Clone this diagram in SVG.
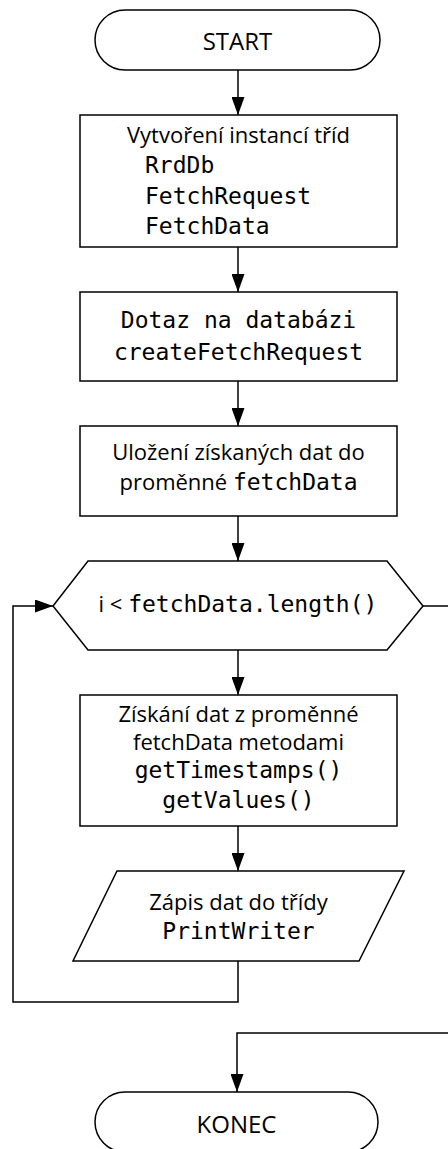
<svg xmlns="http://www.w3.org/2000/svg" width="448" height="1149" viewBox="0 0 448 1149">
  <style>
    .shape { fill: #ffffff; stroke: #000000; stroke-width: 1.5; }
    .link { fill: none; stroke: #000000; stroke-width: 1.5; }
    .sans { font-family: "Open Sans", "Noto Sans", sans-serif; font-size: 22px; fill: #000000; }
    .term { font-family: "Open Sans", "Noto Sans", sans-serif; font-size: 24px; fill: #000000; }
    .mono { font-family: "DejaVu Sans Mono", "Liberation Mono", monospace; font-size: 23px; fill: #000000; }
    .c { text-anchor: middle; }
  </style>
  <defs>
    <marker id="arrow" viewBox="0 0 18 13" refX="18" refY="6.5" markerWidth="18" markerHeight="13" markerUnits="userSpaceOnUse" orient="auto">
      <path d="M0,0 L18,6.5 L0,13 Z" fill="#000000"/>
    </marker>
  </defs>

  <!-- connectors -->
  <g id="connectors">
    <path class="link" d="M238,70 V115" marker-end="url(#arrow)"/>
    <path class="link" d="M238,247 V292" marker-end="url(#arrow)"/>
    <path class="link" d="M238,381 V426" marker-end="url(#arrow)"/>
    <path class="link" d="M238,516 V561" marker-end="url(#arrow)"/>
    <path class="link" d="M238,650 V695" marker-end="url(#arrow)"/>
    <path class="link" d="M238,826 V871" marker-end="url(#arrow)"/>
    <!-- loop back to the condition -->
    <path class="link" d="M238,961 V1002 H13 V606 H53" marker-end="url(#arrow)"/>
    <!-- exit of the loop -->
    <path class="link" d="M423,606 H452 V1033 H237 V1092" marker-end="url(#arrow)"/>
  </g>

  <g id="start">
    <rect class="shape" x="95" y="10" width="285" height="60" rx="30" ry="30"/>
    <text class="term c" x="237.5" y="50">START</text>
  </g>

  <g id="create-instances">
    <rect class="shape" x="80" y="115" width="317" height="132"/>
    <text class="sans c" x="238.5" y="143">Vytvoření instancí tříd</text>
    <text class="mono" x="145" y="173">RrdDb</text>
    <text class="mono" x="145" y="204">FetchRequest</text>
    <text class="mono" x="145" y="234">FetchData</text>
  </g>

  <g id="query">
    <rect class="shape" x="80" y="292" width="317" height="89"/>
    <text class="mono c" x="238.5" y="328">Dotaz na databázi</text>
    <text class="mono c" x="238.5" y="360">createFetchRequest</text>
  </g>

  <g id="store">
    <rect class="shape" x="80" y="426" width="317" height="90"/>
    <text class="sans c" x="238.5" y="460">Uložení získaných dat do</text>
    <text class="sans c" x="238.5" y="490">proměnné <tspan class="mono">fetchData</tspan></text>
  </g>

  <g id="condition">
    <polygon class="shape" points="53,606 88,561 387,561 423,606 387,650 88,650"/>
    <text class="sans c" x="238" y="612">i &lt; <tspan class="mono">fetchData.length()</tspan></text>
  </g>

  <g id="read-values">
    <rect class="shape" x="80" y="695" width="317" height="131"/>
    <text class="sans c" x="238.5" y="722">Získání dat z proměnné</text>
    <text class="sans c" x="238.5" y="750">fetchData metodami</text>
    <text class="mono c" x="238.5" y="778">getTimestamps()</text>
    <text class="mono c" x="238.5" y="808">getValues()</text>
  </g>

  <g id="write">
    <polygon class="shape" points="117,871 404,871 359,961 73,961"/>
    <text class="sans c" x="238.5" y="910">Zápis dat do třídy</text>
    <text class="mono c" x="238.5" y="939">PrintWriter</text>
  </g>

  <g id="end">
    <rect class="shape" x="95" y="1092" width="283" height="60" rx="30" ry="30"/>
    <text class="term c" x="236.5" y="1133">KONEC</text>
  </g>
</svg>
